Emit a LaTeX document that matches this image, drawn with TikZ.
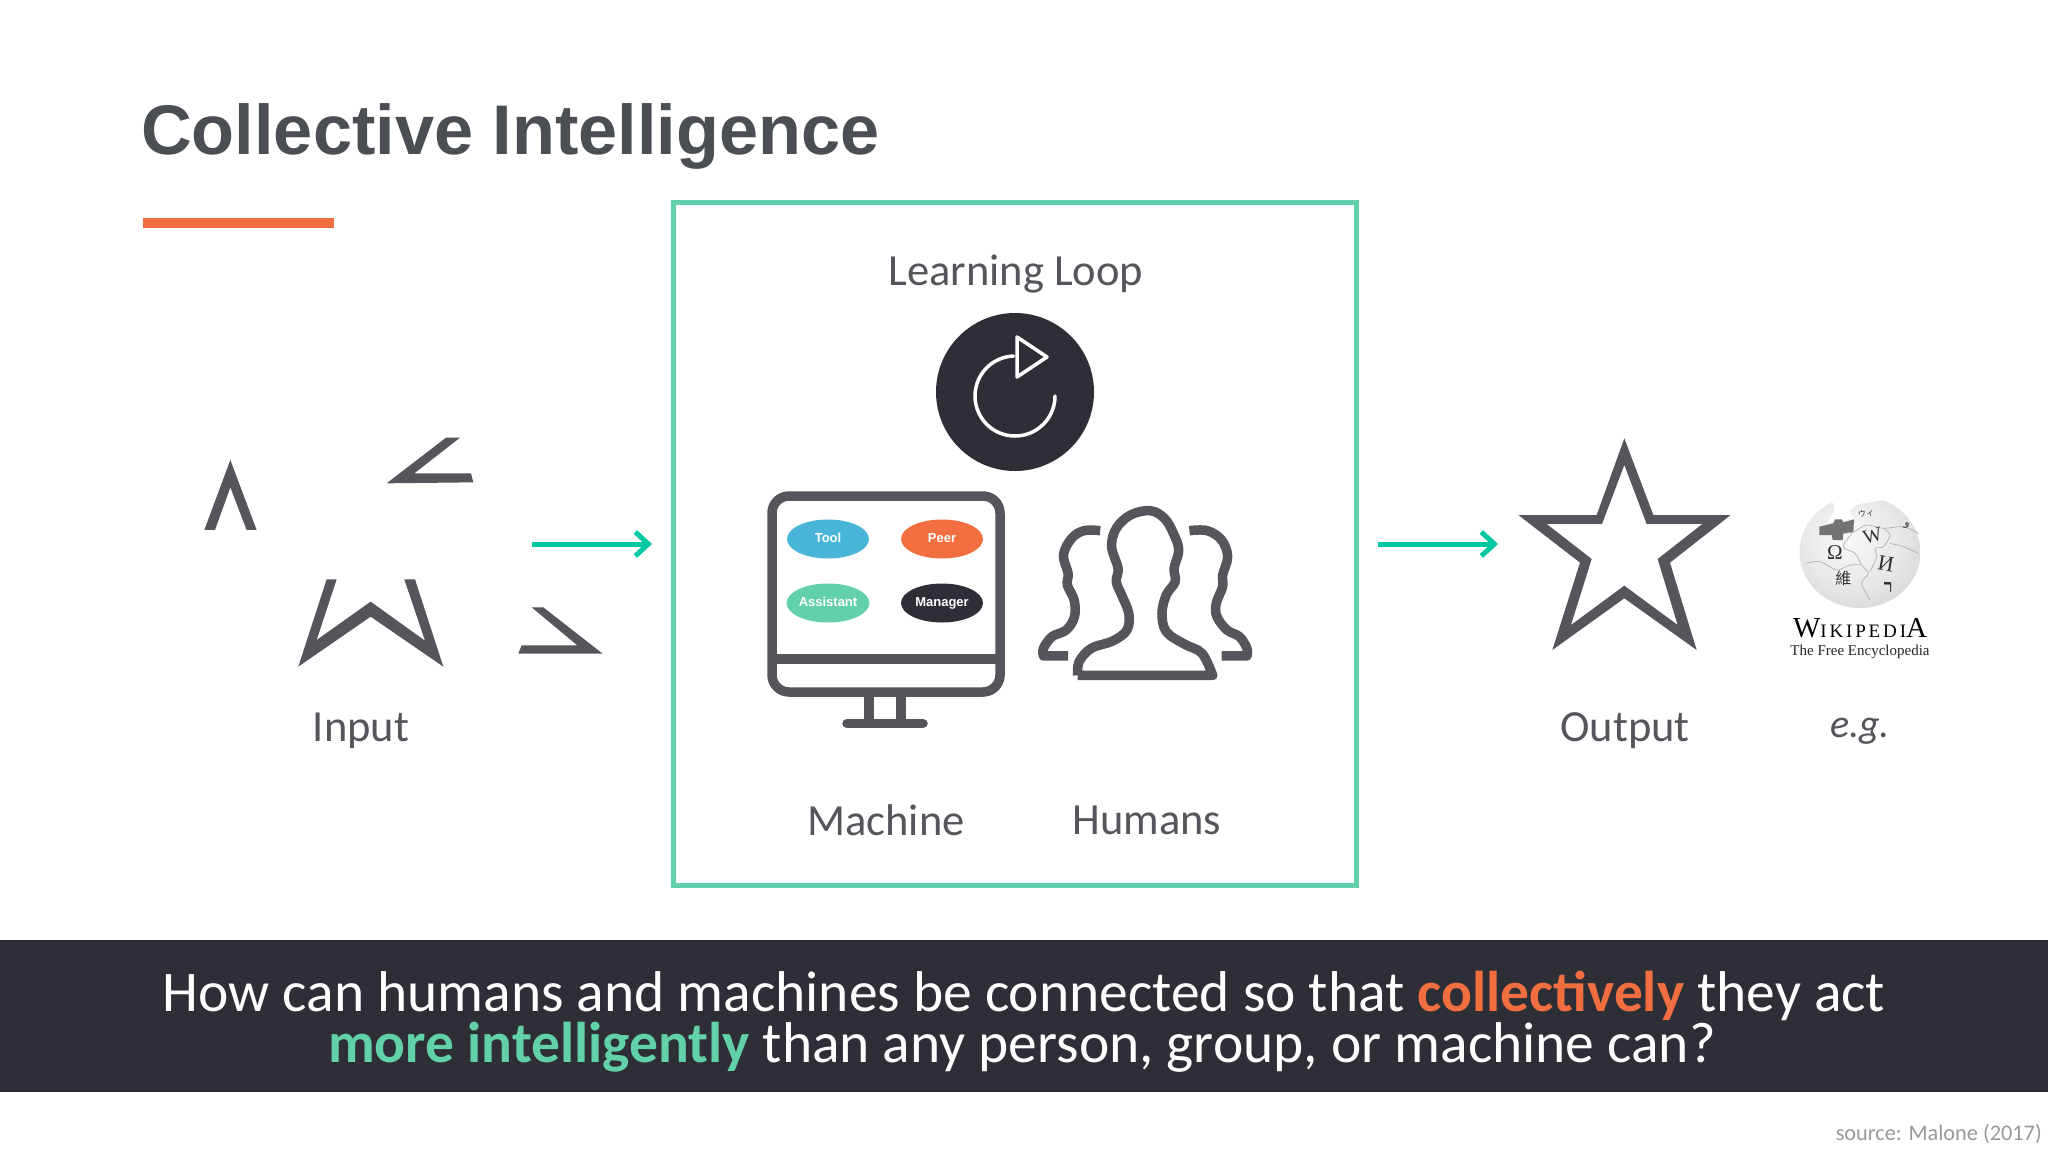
\documentclass[tikz,border=0pt]{standalone}
\usepackage{fontspec}
\setmainfont{Carlito}
\newfontfamily\titlefont{Liberation Sans}
\newfontfamily\wikifont{Liberation Serif}
\newfontfamily\wikicaps[LetterSpace=15]{Liberation Serif}
\newfontfamily\cjkfont{Noto Sans CJK SC}
\newfontfamily\arabicfont[Script=Arabic]{DejaVu Sans}
\usetikzlibrary{positioning,arrows.meta,shapes.geometric}
\definecolor{slate}{HTML}{54565B}
\definecolor{ink}{HTML}{2D2E36}
\definecolor{mint}{HTML}{62D0A8}
\definecolor{flow}{HTML}{00C8A0}
\definecolor{coral}{HTML}{F16E40}
\definecolor{sky}{HTML}{49B5D8}
\pgfdeclareradialshading{globeshade}{\pgfpoint{-6bp}{8bp}}{color(0bp)=(black!2); color(20bp)=(black!9); color(36bp)=(black!18); color(50bp)=(black!42)}
\newcommand{\pxfont}[1]{\fontsize{#1}{#1}\selectfont}
\begin{document}
\begin{tikzpicture}[x=1pt,y=-1pt,
    label/.style={inner sep=0pt,text=slate,font=\pxfont{44.5}},
    band/.style={inner sep=0pt,anchor=base,text=white,font=\pxfont{57.5}},
    pill/.style={ellipse,minimum width=82pt,minimum height=39pt,inner sep=0pt,text height=9.5pt,text depth=2.5pt,text=white,font=\titlefont\bfseries\pxfont{13}},
    flowline/.style={-{Straight Barb[length=13pt,width=24pt,line width=5pt]},draw=flow,line width=5pt},
    icon/.style={draw=slate,line width=9.5pt,line join=round},
    seam/.style={draw=white!70!black,line width=0.7pt},
    glyph/.style={inner sep=0pt,text=black!80}]
    \useasboundingbox (0,0) rectangle (2048,1152);
    \fill[white] (0,0) rectangle (2048,1152);

    \node[inner sep=0pt,anchor=base west,text=slate!90!black] (title) at (141,154)
        {\titlefont\bfseries\pxfont{70.3}Collective Intelligence};
    \fill[coral] (143,218) rectangle (334,228);

    \node[draw=mint,line width=5pt,minimum width=683pt,minimum height=683pt,inner sep=0pt] (loopbox) at (1015,543.5) {};
    \node[label] (learning) at (1016,274) {Learning Loop};

    % loop icon
    \node[circle,fill=ink,minimum size=158pt,inner sep=0pt] (loopdisc) at (1015,392) {};
    \draw[white,line width=3.5pt,line cap=round] (1055,396) arc (0:268:40);
    \draw[white,line width=3.5pt,line join=round] (1017,337) -- (1047,357) -- (1017,377) -- cycle;

    % input fragments
    \begin{scope}[shift={(170,410)},x=0.3333pt,y=-0.3333pt]
        \fill[slate] (181,150) -- (260,360) -- (230,360) -- (181,232) -- (135,360) -- (103,360) -- cycle;
        \fill[slate] (828,83) -- (870,83) -- (733,190) -- (903,190) -- (910,217) -- (650,220) -- cycle;
        \fill[slate] (470,508) -- (500,508) -- (440,690) -- (602,575) -- (765,692) -- (703,508) -- (735,508)
            -- (820,770) -- (602,620) -- (385,770) -- cycle;
        \fill[slate] (1085,592) -- (1120,592) -- (1298,731) -- (1045,731) -- (1055,706) -- (1222,706) -- cycle;
    \end{scope}
    \node[label] (input) at (361,731) {Input};

    % machine
    \draw[icon,rounded corners=17pt] (772,496) rectangle (1000,692);
    \draw[icon] (772,659) -- (1000,659);
    \draw[icon] (869,692) -- (869,723);
    \draw[icon] (901,692) -- (901,723);
    \draw[icon,line cap=round] (847,723.5) -- (923,723.5);
    \node[pill,fill=sky] (tool) at (828,539) {Tool};
    \node[pill,fill=coral] (peer) at (942,539) {Peer};
    \node[pill,fill=mint] (assistant) at (828,603) {Assistant};
    \node[pill,fill=ink] (manager) at (942,603) {Manager};
    \node[label] (machine) at (886,820) {Machine};

    % humans
    \begin{scope}[shift={(720,440)},x=0.357pt,y=-0.3333pt]
        \draw[icon] plot[smooth,tension=0.6] coordinates {(1002,706) (1006,665) (1040,625) (1100,603)
            (1140,570) (1145,520) (1125,465) (1110,425) (1115,385) (1097,320) (1110,265) (1150,225) (1205,212)
            (1245,235) (1270,280) (1285,330) (1272,385) (1275,425) (1250,465) (1238,520) (1250,575) (1300,612)
            (1350,640) (1380,706)} -- (1002,706);
        \draw[icon] plot[smooth,tension=0.6] coordinates {(1065,272) (1020,272) (985,295) (962,345) (975,400) (973,435)
            (992,480) (993,530) (970,570) (930,590) (906,625) (906,648)} -- (975,648);
        \draw[icon] plot[smooth,tension=0.6] coordinates {(1315,272) (1365,272) (1405,300) (1422,350) (1408,405) (1408,440)
            (1390,490) (1392,530) (1420,570) (1455,590) (1476,625) (1476,648)} -- (1405,648);
    \end{scope}
    \node[label] (humans) at (1147,820) {Humans};

    % output star
    \begin{scope}[shift={(1500,420)},x=0.3333pt,y=-0.3333pt]
        \fill[slate,even odd rule] (373,55) -- (460,285) -- (692,285) -- (510,428) -- (590,690) -- (373,535)
            -- (157,690) -- (240,428) -- (55,285) -- (290,285) -- cycle
            (373,135) -- (440,312) -- (607,312) -- (473,417) -- (533,615) -- (373,497)
            -- (213,615) -- (275,417) -- (140,312) -- (306,312) -- cycle;
    \end{scope}
    \node[label] (output) at (1625,731) {Output};

    % wikipedia globe
    \node[ellipse,minimum width=121pt,minimum height=112pt,inner sep=0pt,shading=globeshade] (globe) at (1860,552) {};
    \begin{scope}[shift={(1790,490)},x=0.3333pt,y=-0.3333pt]
        \draw[seam] plot[smooth] coordinates {(160,130) (192,125) (230,105) (280,115) (340,110) (385,130)};
        \draw[seam] plot[smooth] coordinates {(190,125) (160,170) (195,190) (215,225) (235,250) (215,280) (240,330)};
        \draw[seam] plot[smooth] coordinates {(50,220) (90,215) (140,240) (180,225) (215,225)};
        \draw[seam] plot[smooth] coordinates {(280,115) (300,135) (280,170) (255,175) (260,200) (240,245)};
        \draw[seam] plot[smooth] coordinates {(385,190) (340,170) (300,160)};
        \fill[white] (100,0) -- (125,30) -- (135,60) -- (110,100) -- (190,85) -- (178,60) -- (205,42) -- (300,28) -- (300,0) -- cycle;
        \fill[black!55] (88,110) -- (130,100) -- (135,88) -- (155,88) -- (160,97) -- (192,88) -- (190,125) -- (160,130)
            -- (158,150) -- (128,150) -- (125,135) -- (88,135) -- cycle;
        \node[glyph,font=\wikifont\pxfont{21}] (omega) at (135,187) {Ω};
        \node[glyph,font=\wikifont\pxfont{20},rotate=15] (wglyph) at (248,138) {W};
        \node[glyph,font=\wikifont\pxfont{22},rotate=-10] (iglyph) at (288,220) {И};
        \node[glyph,font=\cjkfont\pxfont{16}] (cjkglyph) at (160,265) {維};
        \node[glyph,font=\wikifont\bfseries\pxfont{18}] (hebglyph) at (295,292) {ר};
        \node[glyph,font=\cjkfont\pxfont{8},rotate=10] (kanaglyph) at (228,70) {ウィ};
        \node[glyph,font=\arabicfont\pxfont{11},rotate=-15] (arabglyph) at (350,108) {و};
    \end{scope}
    \node[inner sep=0pt,anchor=base,text=black] (wiki) at (1860,637)
        {\wikicaps\pxfont{29}W\pxfont{19}IKIPEDI\pxfont{29}A};
    \node[inner sep=0pt,anchor=base,text=black!85] (free) at (1860,655)
        {\wikifont\pxfont{15}The Free Encyclopedia};
    \node[label,font=\itshape\pxfont{40}] (eg) at (1860,731) {e.g.};

    % arrows
    \coordinate (inputend) at (532,544);
    \coordinate (loopstart) at (652,544);
    \coordinate (loopend) at (1378,544);
    \coordinate (outputstart) at (1498,544);
    \draw[flowline] (inputend) -- (loopstart);
    \draw[flowline] (loopend) -- (outputstart);

    % question band
    \fill[ink] (0,940) rectangle (2048,1092);
    \node[band] (line1) at (1024,1011) {How can humans and machines be connected so that \textcolor{coral}{\textbf{collectively}} they act};
    \node[band] (line2) at (1022,1062) {\textcolor{mint}{\textbf{more intelligently}} than any person, group, or machine can?};

    \node[inner sep=0pt,anchor=base east,text=black!40,font=\pxfont{22.3}] (source) at (2042,1140) {source: Malone (2017)};
\end{tikzpicture}
\end{document}
